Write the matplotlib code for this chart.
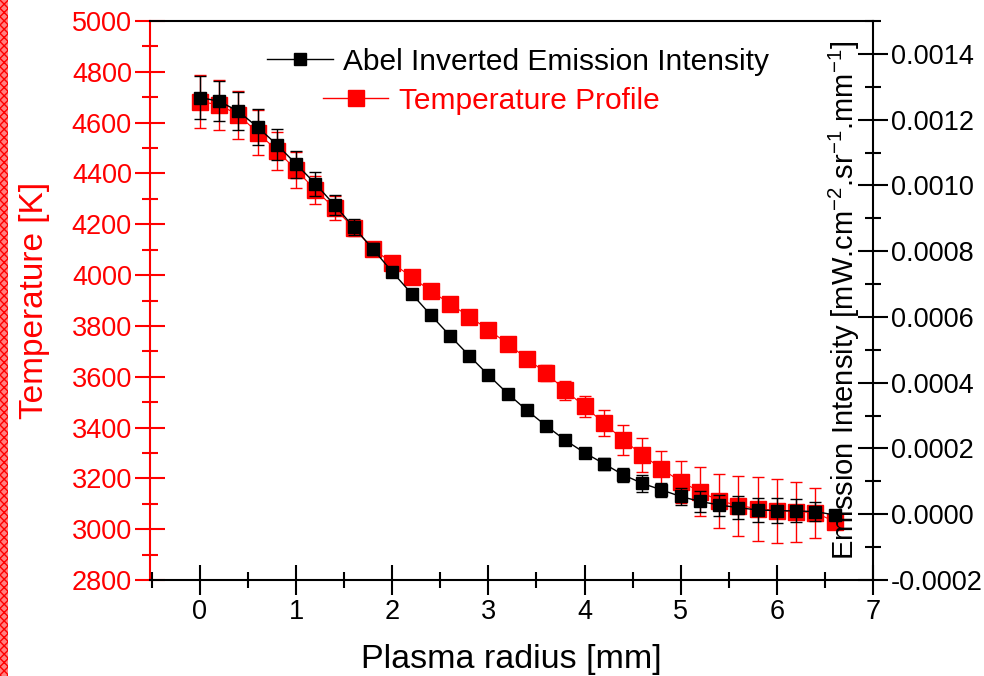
import matplotlib
matplotlib.use("Agg")
import matplotlib.pyplot as plt
from matplotlib.lines import Line2D
from matplotlib.patches import Rectangle
from matplotlib.ticker import MultipleLocator, FormatStrFormatter

plt.rcParams['font.family'] = ['Liberation Sans', 'DejaVu Sans']
plt.rcParams['mathtext.fontset'] = 'custom'
plt.rcParams['mathtext.rm'] = 'Liberation Sans'
plt.rcParams['mathtext.it'] = 'Liberation Sans:italic'

radius = [0.0, 0.2, 0.4, 0.6, 0.8, 1.0, 1.2, 1.4, 1.6, 1.8,
          2.0, 2.2, 2.4, 2.6, 2.8, 3.0, 3.2, 3.4, 3.6, 3.8,
          4.0, 4.2, 4.4, 4.6, 4.8, 5.0, 5.2, 5.4, 5.6, 5.8,
          6.0, 6.2, 6.4, 6.6]

temperature = [4683, 4670, 4630, 4561, 4490, 4414, 4335, 4263, 4185, 4102,
               4048, 3992, 3938, 3887, 3837, 3785, 3730, 3671, 3615, 3546,
               3483, 3418, 3352, 3293, 3238, 3187, 3148, 3112, 3093, 3081,
               3073, 3069, 3065, 3030]
temperature_err = [106, 98, 94, 90, 75, 71, 55, 47, 30, 25,
                   20, 18, 16, 15, 15, 16, 18, 22, 31, 39,
                   43, 51, 59, 67, 71, 83, 98, 106, 118, 126,
                   126, 118, 98, 20]

intensity = [0.001267, 0.001256, 0.001225, 0.001177, 0.001124, 0.001065,
             0.001005, 0.000940, 0.000873, 0.000806, 0.000737, 0.000671,
             0.000606, 0.000543, 0.000482, 0.000423, 0.000367, 0.000316,
             0.000269, 0.000225, 0.000187, 0.000154, 0.000120, 0.000094,
             0.000074, 0.000054, 0.000039, 0.000028, 0.000020, 0.000013,
             0.000011, 0.000010, 0.000008, -0.000002]
intensity_err = [6.5e-5, 6.1e-5, 5.8e-5, 5.4e-5, 4.8e-5, 4.1e-5, 3.7e-5,
                 3.1e-5, 2.5e-5, 1.8e-5, 1.2e-5, 0.9e-5, 0.9e-5, 0.9e-5,
                 0.9e-5, 0.9e-5, 0.9e-5, 1.2e-5, 1.5e-5, 1.5e-5, 1.5e-5,
                 1.8e-5, 2.2e-5, 2.5e-5, 2.2e-5, 2.6e-5, 3.1e-5, 3.2e-5,
                 3.4e-5, 3.7e-5, 3.7e-5, 3.5e-5, 2.8e-5, 0.9e-5]

fig = plt.figure(figsize=(9.84, 6.76), dpi=100)
ax = fig.add_axes([150 / 984, 1 - 580 / 676, 723 / 984, 559 / 676])
ax2 = ax.twinx()

# red checkered strip on the left edge
fig.patches.append(Rectangle((0, 0), 8 / 984, 1, transform=fig.transFigure,
                             facecolor='#ff8080', edgecolor='red', hatch='xxxx',
                             lw=0))

ax.errorbar(radius, temperature, yerr=temperature_err, color='red', lw=0.8,
            marker='s', ms=11.5, mec='red', mfc='red', ecolor='red',
            elinewidth=1.0, capsize=4, capthick=1.0)
ax2.errorbar(radius, intensity, yerr=intensity_err, color='black', lw=1.0,
             marker='s', ms=9, mec='black', mfc='black', ecolor='black',
             elinewidth=1.0, capsize=4.3, capthick=1.0)

ax.set_xlim(-0.52, 7)
ax.set_ylim(2800, 5000)
ax2.set_ylim(-0.0002, 0.0015)

ax.xaxis.set_major_locator(MultipleLocator(1))
ax.xaxis.set_minor_locator(MultipleLocator(0.5))
ax.yaxis.set_major_locator(MultipleLocator(200))
ax.yaxis.set_minor_locator(MultipleLocator(100))
ax2.yaxis.set_major_locator(MultipleLocator(0.0002))
ax2.yaxis.set_minor_locator(MultipleLocator(0.0001))
ax2.yaxis.set_major_formatter(FormatStrFormatter('%.4f'))

for side in ['left', 'bottom', 'top']:
    ax2.spines[side].set_visible(False)
ax.spines['right'].set_visible(False)
ax.spines['left'].set_color('red')
for s in [ax.spines['left'], ax.spines['bottom'], ax.spines['top'], ax2.spines['right']]:
    s.set_linewidth(1.5)

ax.tick_params(axis='x', which='both', direction='inout', top=False,
               labelsize=19.5, pad=3, width=1.5, colors='black')
ax.tick_params(axis='x', which='major', length=22)
ax.tick_params(axis='x', which='minor', length=12)
ax.tick_params(axis='y', which='both', direction='inout', width=1.5,
               colors='red', labelsize=19.5, pad=2)
ax.tick_params(axis='y', which='major', length=22)
ax.tick_params(axis='y', which='minor', length=12)
ax2.tick_params(axis='y', which='both', direction='inout', width=1.5,
                colors='black', labelsize=19.5, pad=2)
ax2.tick_params(axis='y', which='major', length=22)
ax2.tick_params(axis='y', which='minor', length=12)

ax.set_xlabel('Plasma radius [mm]', fontsize=24.5)
ax.xaxis.set_label_coords(0.5, -0.114)
ax.set_ylabel('Temperature [K]', fontsize=24, color='red')
ax.yaxis.set_label_coords(-0.1385, 0.5)
ax2.text(0.961, 0.5,
         r'Emission Intensity [mW.cm$^{-2}$.sr$^{-1}$.mm$^{-1}$]',
         transform=ax2.transAxes, rotation=90, ha='center', va='center',
         fontsize=21)

h_black = Line2D([], [], color='black', lw=1.0, marker='s', ms=9)
h_red = Line2D([], [], color='red', lw=1.0, marker='s', ms=11.5)
leg1 = ax2.legend([h_black], ['Abel Inverted Emission Intensity'],
                  loc='center left', bbox_to_anchor=(0.162, 0.927),
                  frameon=False, fontsize=21.5, numpoints=1, handlelength=2.2,
                  handletextpad=0.35, borderpad=0, borderaxespad=0)
ax2.add_artist(leg1)
leg2 = ax2.legend([h_red], ['Temperature Profile'],
                  loc='center left', bbox_to_anchor=(0.239, 0.857),
                  frameon=False, fontsize=21.5, numpoints=1, handlelength=2.2,
                  handletextpad=0.35, borderpad=0, borderaxespad=0)
for t in leg2.get_texts():
    t.set_color('red')

fig.savefig('out.png', dpi=100)
